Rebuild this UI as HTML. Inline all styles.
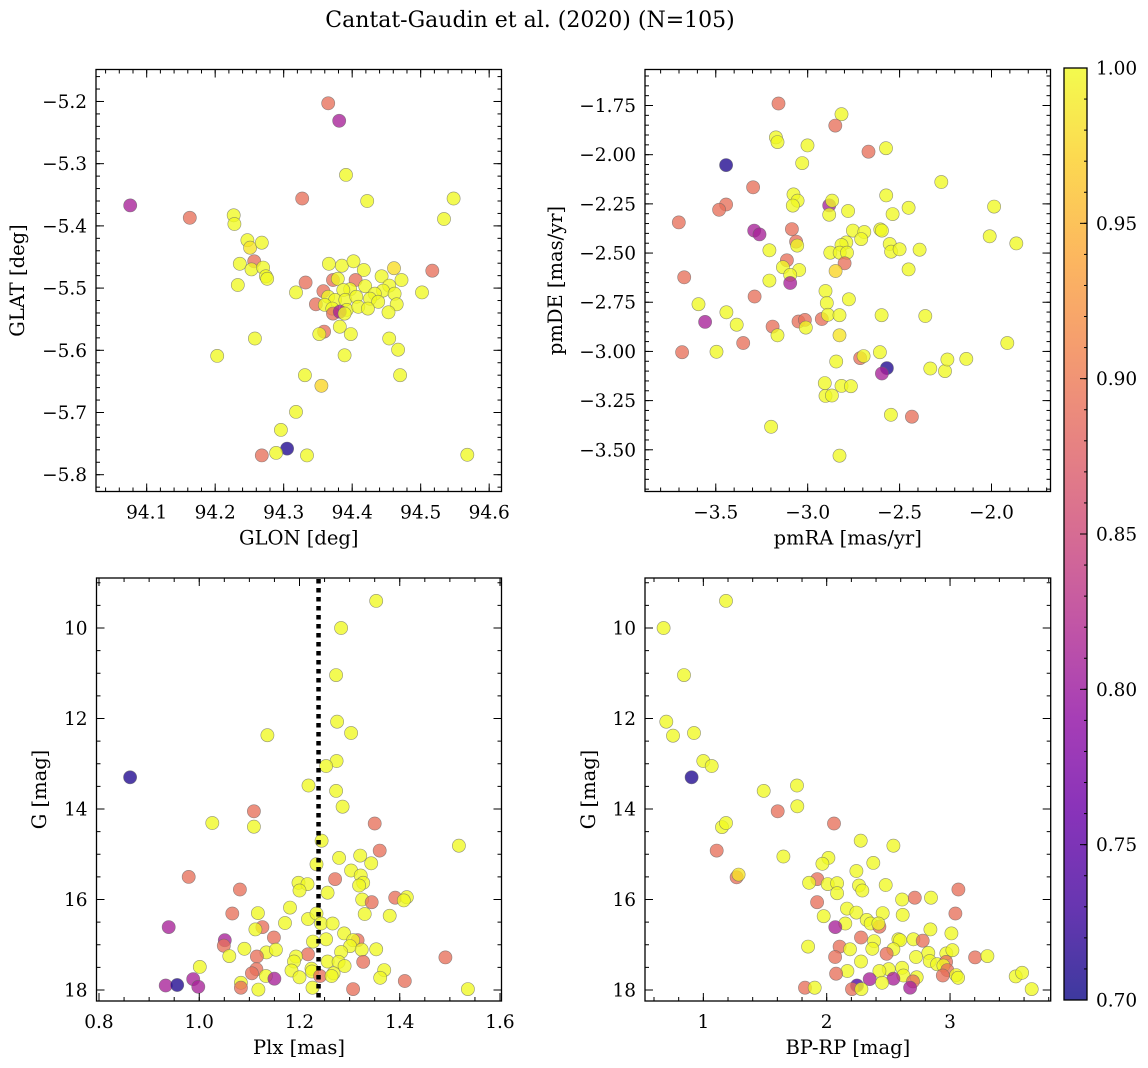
<!DOCTYPE html>
<html><head><meta charset="utf-8">
<style>
body{margin:0;background:#fff;}
svg{display:block;font-family:"DejaVu Serif","Liberation Serif",serif;}
</style></head>
<body>
<svg id="fig" width="1148" height="1068" viewBox="0 0 1148 1068">
<text x="530" y="27" text-anchor="middle" font-size="22">Cantat-Gaudin et al. (2020) (N=105)</text>
</svg>
<script>
// ---------- Data (probability codes: Y=1.0, O=0.89, P=0.81, B=0.71) ----------
const glon = [94.365,94.381,94.391,94.327,94.422,94.548,94.534,94.076,94.163,94.227,94.228,94.247,94.251,94.268,94.236,94.257,94.253,94.270,94.274,94.276,94.233,94.318,94.332,94.347,94.358,94.366,94.385,94.402,94.417,94.461,94.517,94.502,94.443,94.472,94.454,94.372,94.379,94.405,94.419,94.397,94.387,94.445,94.433,94.462,94.465,94.365,94.375,94.390,94.406,94.426,94.438,94.360,94.371,94.392,94.409,94.423,94.372,94.382,94.389,94.453,94.382,94.398,94.359,94.352,94.454,94.467,94.258,94.203,94.389,94.331,94.470,94.355,94.318,94.296,94.305,94.289,94.268,94.334,94.568];
const glat = [-5.203,-5.231,-5.318,-5.356,-5.360,-5.356,-5.389,-5.367,-5.387,-5.383,-5.397,-5.423,-5.435,-5.427,-5.461,-5.457,-5.470,-5.467,-5.481,-5.485,-5.495,-5.507,-5.491,-5.526,-5.505,-5.461,-5.464,-5.457,-5.471,-5.468,-5.472,-5.507,-5.481,-5.487,-5.496,-5.487,-5.485,-5.487,-5.497,-5.502,-5.503,-5.504,-5.509,-5.509,-5.526,-5.514,-5.519,-5.519,-5.514,-5.517,-5.522,-5.527,-5.533,-5.535,-5.530,-5.533,-5.541,-5.538,-5.541,-5.539,-5.562,-5.574,-5.570,-5.574,-5.581,-5.599,-5.581,-5.609,-5.608,-5.640,-5.640,-5.657,-5.699,-5.728,-5.758,-5.765,-5.769,-5.769,-5.768];
const probPos = [0.89,0.81,1,0.89,1,1,1,0.81,0.89,1,1,1,0.985,1,1,0.89,1,1,1,1,1,1,0.89,0.89,0.89,1,1,1,1,0.98,0.89,1,1,1,1,0.89,1,0.89,1,1,1,1,1,1,1,1,1,1,1,1,1,1,1,1,1,1,0.89,0.81,1,1,1,1,0.89,1,1,1,1,1,1,1,1,0.975,1,1,0.71,1,0.89,1,1];

const pmra = [-3.159,-2.816,-2.850,-3.173,-3.164,-3.001,-2.669,-2.574,-3.444,-3.030,-2.273,-3.297,-3.077,-3.055,-3.081,-3.444,-3.482,-2.883,-2.867,-2.883,-2.780,-2.573,-2.538,-2.451,-1.986,-3.701,-3.086,-3.291,-3.262,-2.754,-2.692,-2.709,-2.605,-2.596,-2.010,-1.865,-3.063,-3.057,-3.208,-2.790,-2.816,-2.877,-2.826,-2.786,-2.554,-2.546,-2.500,-2.391,-3.113,-2.799,-3.135,-3.046,-3.095,-2.848,-2.451,-3.672,-3.208,-3.095,-2.903,-2.896,-2.776,-3.289,-3.594,-3.442,-3.558,-3.386,-3.191,-3.164,-3.050,-3.015,-3.010,-2.923,-2.890,-2.827,-2.827,-2.598,-2.360,-1.914,-3.351,-3.683,-3.496,-2.845,-2.714,-2.696,-2.607,-2.569,-2.596,-2.333,-2.253,-2.240,-2.137,-2.907,-2.816,-2.765,-2.903,-2.868,-2.547,-2.433,-3.199,-2.827];
const pmde = [-1.740,-1.794,-1.852,-1.912,-1.936,-1.953,-1.985,-1.967,-2.053,-2.043,-2.139,-2.166,-2.202,-2.234,-2.259,-2.253,-2.280,-2.258,-2.234,-2.305,-2.286,-2.207,-2.302,-2.270,-2.264,-2.344,-2.378,-2.386,-2.405,-2.386,-2.393,-2.429,-2.380,-2.386,-2.415,-2.451,-2.442,-2.462,-2.486,-2.446,-2.459,-2.498,-2.498,-2.498,-2.454,-2.493,-2.481,-2.483,-2.537,-2.552,-2.572,-2.586,-2.611,-2.591,-2.583,-2.623,-2.640,-2.652,-2.693,-2.754,-2.735,-2.721,-2.760,-2.801,-2.850,-2.864,-2.874,-2.918,-2.848,-2.840,-2.879,-2.835,-2.814,-2.816,-2.918,-2.816,-2.820,-2.957,-2.957,-3.004,-3.002,-3.051,-3.034,-3.024,-3.004,-3.085,-3.112,-3.087,-3.100,-3.041,-3.038,-3.161,-3.175,-3.177,-3.226,-3.224,-3.322,-3.332,-3.383,-3.530];
const probPm = [0.89,1,0.89,1,1,1,0.89,1,0.71,1,1,0.89,1,1,1,0.89,0.89,0.81,1,1,1,1,1,1,1,0.89,0.89,0.81,0.81,1,1,1,1,1,1,1,0.89,1,1,1,1,1,1,1,1,1,1,1,0.89,0.89,1,1,1,0.975,1,0.89,1,0.81,1,1,1,0.89,1,1,0.81,1,0.89,1,0.89,0.89,1,0.89,1,1,0.985,1,1,1,0.89,0.89,1,1,0.89,1,1,0.71,0.81,1,1,1,1,1,1,1,1,1,1,0.89,1,1];

const plx = [1.353,1.283,1.273,1.275,1.303,1.136,1.274,1.253,1.218,1.273,1.286,0.862,1.109,1.026,1.109,1.350,1.244,1.518,1.360,1.279,1.321,1.234,1.343,1.303,0.979,1.271,1.322,1.198,1.216,1.327,1.319,1.200,1.081,1.256,1.391,1.414,1.408,1.325,1.344,1.181,1.066,1.117,1.330,1.380,1.217,1.234,1.243,1.266,1.171,0.939,1.126,1.112,1.289,1.149,1.051,1.049,1.316,1.307,1.227,1.253,1.301,1.324,1.353,1.090,1.134,1.153,1.283,1.217,1.060,1.115,1.193,1.189,1.491,1.327,1.256,1.278,1.001,1.290,1.114,1.105,1.184,1.224,1.225,1.369,1.268,1.133,1.200,1.241,1.264,1.361,0.988,1.150,1.410,1.083,0.933,0.956,0.998,1.083,1.118,1.226,1.307,1.536];
const gmagA = [9.40,10.00,11.04,12.07,12.32,12.37,12.94,13.05,13.48,13.60,13.95,13.30,14.05,14.31,14.39,14.32,14.70,14.81,14.92,15.08,15.03,15.22,15.20,15.36,15.50,15.55,15.47,15.63,15.66,15.63,15.69,15.80,15.78,15.85,15.96,15.95,16.02,16.00,16.06,16.18,16.31,16.30,16.32,16.36,16.43,16.31,16.53,16.53,16.52,16.61,16.61,16.66,16.75,16.84,16.90,17.02,16.90,16.90,16.93,16.88,17.03,17.11,17.10,17.09,17.17,17.11,17.16,17.21,17.25,17.26,17.26,17.37,17.28,17.38,17.37,17.38,17.49,17.47,17.54,17.63,17.57,17.53,17.59,17.56,17.63,17.69,17.72,17.69,17.69,17.73,17.76,17.75,17.80,17.84,17.90,17.89,17.93,17.95,17.99,17.95,17.98,17.98];
const probPlx = [1,1,1,1,1,1,1,1,1,1,1,0.71,0.89,1,1,0.89,1,1,0.89,1,1,1,1,1,0.89,0.89,1,1,1,1,1,1,0.89,1,0.89,1,1,1,0.89,1,0.89,1,1,1,1,1,1,1,1,0.81,0.89,1,1,0.89,0.81,0.89,0.89,1,1,1,1,1,1,1,1,1,1,0.89,1,0.89,1,1,0.89,0.89,1,1,1,1,0.89,0.89,1,1,1,1,1,1,1,0.89,1,1,0.81,0.81,0.89,1,0.81,0.71,0.81,0.89,1,1,0.89,1];

const bprp = [1.184,0.678,0.843,0.700,0.754,0.924,1.000,1.068,0.905,1.759,1.489,1.762,1.603,1.151,1.184,2.059,1.108,2.276,2.541,1.649,2.014,1.965,2.378,2.241,1.270,1.286,1.924,1.857,2.008,2.084,2.262,2.289,2.478,3.068,2.084,2.611,2.714,2.846,1.922,2.165,2.241,2.454,2.616,3.043,1.976,2.324,2.357,2.427,2.419,2.151,2.070,2.841,3.011,2.278,2.384,2.581,2.595,2.703,2.778,1.849,2.105,2.189,2.370,2.541,2.486,2.824,2.970,3.019,2.068,2.724,3.203,3.303,2.278,2.835,2.895,2.968,2.946,2.978,2.611,2.503,2.427,2.168,2.076,2.941,2.622,3.049,3.065,3.532,3.584,2.730,2.700,2.349,2.541,2.449,2.246,1.824,1.903,2.205,2.281,2.676,3.662];
const gmagB = [9.40,10.00,11.04,12.07,12.38,12.32,12.94,13.05,13.30,13.48,13.60,13.94,14.05,14.40,14.31,14.32,14.92,14.70,14.81,15.05,15.08,15.21,15.19,15.37,15.51,15.45,15.55,15.63,15.66,15.64,15.69,15.80,15.68,15.78,15.86,16.00,15.96,15.96,16.06,16.20,16.29,16.30,16.34,16.31,16.37,16.45,16.53,16.60,16.53,16.53,16.61,16.66,16.75,16.84,16.92,16.88,16.90,16.88,16.91,17.04,17.04,17.10,17.09,17.10,17.20,17.18,17.19,17.12,17.27,17.27,17.28,17.25,17.37,17.36,17.43,17.38,17.46,17.56,17.51,17.54,17.58,17.58,17.64,17.68,17.68,17.67,17.73,17.70,17.62,17.72,17.81,17.76,17.75,17.84,17.90,17.95,17.95,17.98,17.98,17.95,17.98];
const probCmd = [1,1,1,1,1,1,1,1,0.71,1,1,1,0.89,1,1,0.89,0.89,1,1,1,1,1,1,1,0.89,0.985,0.89,1,1,1,1,1,1,0.89,1,1,0.89,1,0.89,1,1,1,1,0.89,1,1,1,0.89,1,1,0.81,1,1,0.89,1,1,1,1,0.89,1,0.89,1,1,1,0.89,1,1,1,0.89,1,0.89,1,1,1,1,0.89,1,0.89,1,1,1,1,0.89,0.89,1,1,1,1,1,1,0.89,0.81,0.81,1,0.74,0.89,1,0.89,1,0.81,1];

const plxMean = 1.238;
const cbTicks = [0.70,0.75,0.80,0.85,0.90,0.95,1.00];

// ---------- helpers ----------
const NS = "http://www.w3.org/2000/svg";
const svg = document.getElementById('fig');
const TFS = 18.5, LFS = 19.5;
function el(tag, attrs, parent){ const e=document.createElementNS(NS,tag); for(const k in attrs) e.setAttribute(k,attrs[k]); (parent||svg).appendChild(e); return e; }
const plasma = [[13,8,135],[65,4,157],[106,0,168],[143,13,164],[177,42,144],[204,71,120],[225,100,98],[242,132,75],[252,166,54],[252,206,37],[240,249,33]];
function cmap(t){ t=Math.max(0,Math.min(1,t)); const f=t*10, i=Math.min(9,Math.floor(f)), r=f-i; const a=plasma[i], b=plasma[i+1]; return 'rgb('+a.map((v,k)=>Math.round(v+(b[k]-v)*r)).join(',')+')'; }
function colorOf(p){ return cmap((p-0.7)/0.3); }
function fmtMinus(s){ return s.replace('-', '\u2212'); }

function panel(cfg){
  const {name,x0,x1,y0,y1,xd,yd,yInv} = cfg;
  const sx = v => x0 + (v-xd[0])/(xd[1]-xd[0])*(x1-x0);
  const sy = yInv ? (v => y0 + (v-yd[0])/(yd[1]-yd[0])*(y1-y0)) : (v => y1 - (v-yd[0])/(yd[1]-yd[0])*(y1-y0));
  const g = el('g',{});
  
  
  const pg = el('g',{},g);
  
  
  for(let i=0;i<cfg.xs.length;i++){
    const c = el('circle',{cx:sx(cfg.xs[i]).toFixed(1),cy:sy(cfg.ys[i]).toFixed(1),r:6.6,fill:colorOf(cfg.ps[i]),'fill-opacity':0.78,stroke:'#666','stroke-opacity':0.7,'stroke-width':0.6},pg);
    
    
  }
  if(cfg.extra) cfg.extra(g,sx,sy);
  const tg = el('g',{stroke:'#000','stroke-width':1},g);
  function xt(v,len){ const x=sx(v); el('line',{x1:x,x2:x,y1:y1,y2:y1-len},tg); el('line',{x1:x,x2:x,y1:y0,y2:y0+len},tg); }
  function yt(v,len){ const y=sy(v); el('line',{x1:x0,x2:x0+len,y1:y,y2:y},tg); el('line',{x1:x1,x2:x1-len,y1:y,y2:y},tg); }
  const lo=Math.min(xd[0],xd[1]), hi=Math.max(xd[0],xd[1]);
  for(let k=Math.ceil(lo/cfg.xminor-1e-9);k*cfg.xminor<=hi+1e-9;k++) xt(k*cfg.xminor,4);
  const ylo=Math.min(yd[0],yd[1]), yhi=Math.max(yd[0],yd[1]);
  for(let k=Math.ceil(ylo/cfg.yminor-1e-9);k*cfg.yminor<=yhi+1e-9;k++) yt(k*cfg.yminor,4);
  cfg.xticks.forEach((v,i)=>{ xt(v,8);
    const t=el('text',{x:sx(v),y:y1+27,'text-anchor':'middle','font-size':TFS},g); t.textContent=fmtMinus(cfg.xlabels[i]);
    
     });
  cfg.yticks.forEach((v,i)=>{ yt(v,8);
    const t=el('text',{x:x0-9,y:sy(v)+6.5,'text-anchor':'end','font-size':TFS},g); t.textContent=fmtMinus(cfg.ylabels[i]);
    
     });
  const fr = el('rect',{x:x0,y:y0,width:x1-x0,height:y1-y0,fill:'none',stroke:'#000','stroke-width':1.3},g);
  
  
  const xl=el('text',{x:(x0+x1)/2,y:y1+53,'text-anchor':'middle','font-size':LFS},g); xl.textContent=cfg.xtitle;
  
  
  const yl=el('text',{x:0,y:0,'text-anchor':'middle','font-size':LFS,transform:'translate('+cfg.ytx+','+((y0+y1)/2)+') rotate(-90)'},g); yl.textContent=cfg.ytitle;
  
  
}

panel({name:'glon-glat-panel',x0:96,x1:501.5,y0:69.5,y1:491.5,xd:[94.026,94.618],yd:[-5.827,-5.1486],
  xs:glon,ys:glat,ps:probPos,xminor:0.02,yminor:0.02,
  xticks:[94.1,94.2,94.3,94.4,94.5,94.6],xlabels:['94.1','94.2','94.3','94.4','94.5','94.6'],
  yticks:[-5.2,-5.3,-5.4,-5.5,-5.6,-5.7,-5.8],ylabels:['-5.2','-5.3','-5.4','-5.5','-5.6','-5.7','-5.8'],
  xtitle:'GLON [deg]',ytitle:'GLAT [deg]',ytx:24});
panel({name:'pm-panel',x0:645,x1:1050.5,y0:69.5,y1:491.5,xd:[-3.885,-1.679],yd:[-3.712,-1.567],
  xs:pmra,ys:pmde,ps:probPm,xminor:0.1,yminor:0.05,
  xticks:[-3.5,-3.0,-2.5,-2.0],xlabels:['-3.5','-3.0','-2.5','-2.0'],
  yticks:[-1.75,-2.0,-2.25,-2.5,-2.75,-3.0,-3.25,-3.5],ylabels:['-1.75','-2.00','-2.25','-2.50','-2.75','-3.00','-3.25','-3.50'],
  xtitle:'pmRA [mas/yr]',ytitle:'pmDE [mas/yr]',ytx:562});
panel({name:'plx-g-panel',x0:96.5,x1:501.5,y0:578,y1:1001,xd:[0.795,1.603],yd:[8.895,18.243],yInv:true,
  xs:plx,ys:gmagA,ps:probPlx,xminor:0.05,yminor:0.5,
  xticks:[0.8,1.0,1.2,1.4,1.6],xlabels:['0.8','1.0','1.2','1.4','1.6'],
  yticks:[10,12,14,16,18],ylabels:['10','12','14','16','18'],
  xtitle:'Plx [mas]',ytitle:'G [mag]',ytx:46,
  extra:(g,sx,sy)=>{ const l=el('line',{x1:sx(plxMean),x2:sx(plxMean),y1:579,y2:1000,stroke:'#000','stroke-width':4.5,'stroke-dasharray':'4.5 4.5'},g);
    
     }});
panel({name:'cmd-panel',x0:645,x1:1050.7,y0:578,y1:1001,xd:[0.527,3.816],yd:[8.895,18.243],yInv:true,
  xs:bprp,ys:gmagB,ps:probCmd,xminor:0.2,yminor:0.5,
  xticks:[1,2,3],xlabels:['1','2','3'],
  yticks:[10,12,14,16,18],ylabels:['10','12','14','16','18'],
  xtitle:'BP-RP [mag]',ytitle:'G [mag]',ytx:595});

// ---------- colorbar ----------
const cb = el('g',{});


const defs = el('defs',{});
const lg = el('linearGradient',{id:'cbg',x1:0,y1:1,x2:0,y2:0},defs);
for(let i=0;i<=20;i++){ el('stop',{offset:(i/20),'stop-color':cmap(i/20),'stop-opacity':0.8},lg); }
const cbx0=1064, cbx1=1087, cby0=68, cby1=1000;
el('rect',{x:cbx0,y:cby0,width:cbx1-cbx0,height:cby1-cby0,fill:'url(#cbg)'},cb);
const cbv = v => cby1 - (v-0.7)/0.3*(cby1-cby0);
for(let k=0;k<=30;k++){ const y=cbv(0.7+k*0.01); el('line',{x1:cbx1,x2:cbx1-3,y1:y,y2:y,stroke:'#000','stroke-width':1},cb); }
cbTicks.forEach(v=>{ const y=cbv(v);
  el('line',{x1:cbx1,x2:cbx1-7,y1:y,y2:y,stroke:'#000','stroke-width':1},cb);
  const t=el('text',{x:1096,y:y+6.5,'font-size':TFS},cb); t.textContent=v.toFixed(2);
  
   });
el('rect',{x:cbx0,y:cby0,width:cbx1-cbx0,height:cby1-cby0,fill:'none',stroke:'#000','stroke-width':1.3},cb);
</script>
</body></html>
